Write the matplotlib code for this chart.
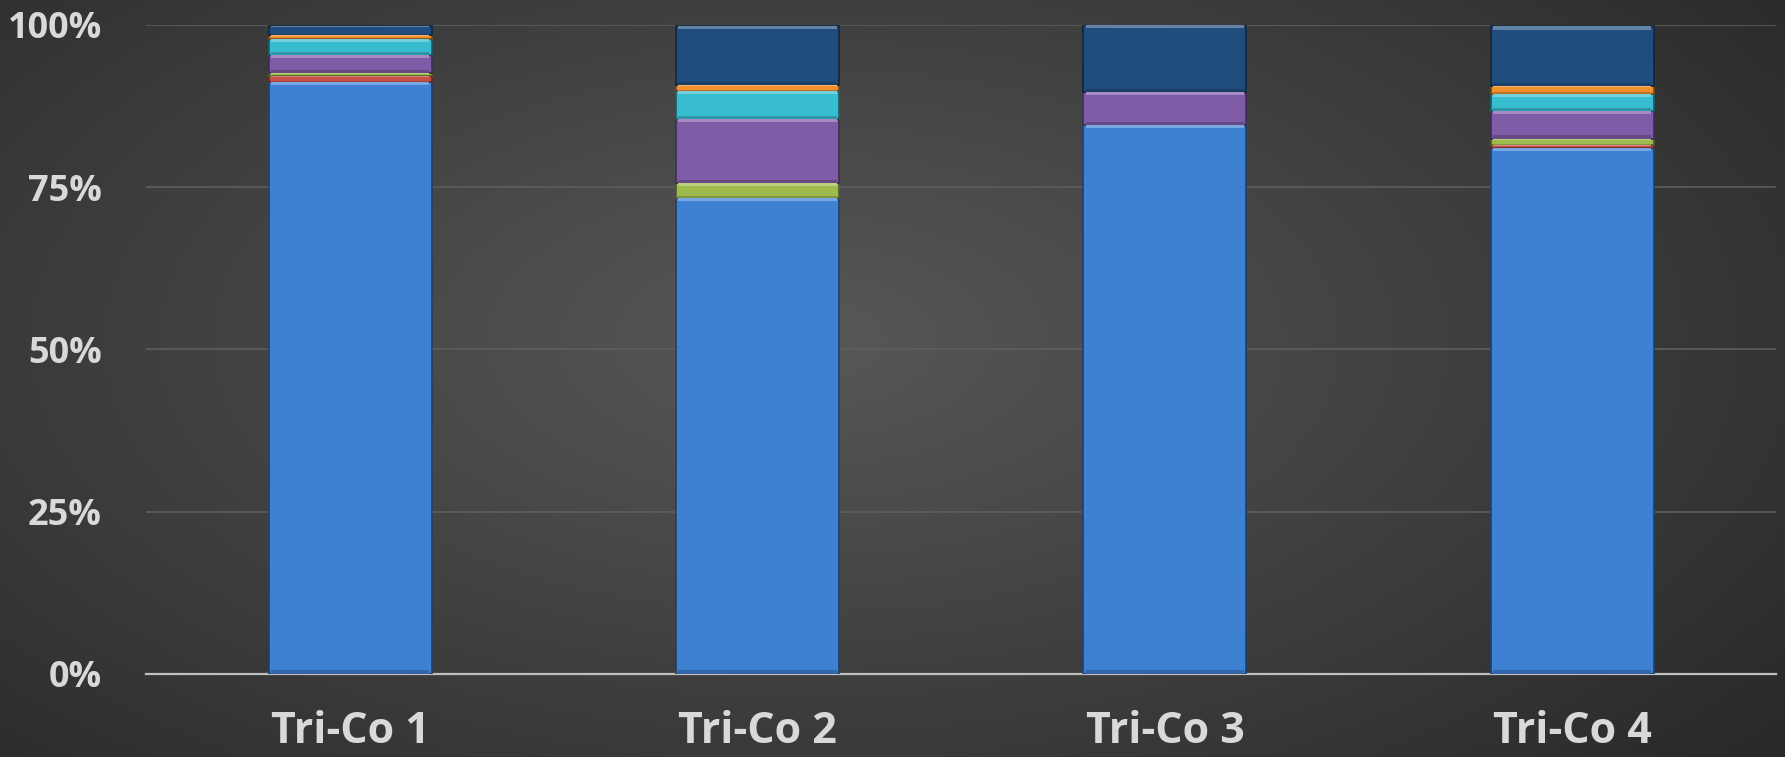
import numpy as np
import matplotlib.pyplot as plt
from matplotlib.colors import to_rgb

categories = ['Tri-Co 1', 'Tri-Co 2', 'Tri-Co 3', 'Tri-Co 4']
# percent share per series, bottom to top
s_blue = [91.2, 73.3, 84.6, 81.0]
s_red = [0.9, 0.0, 0.0, 0.5]
s_green = [0.5, 2.3, 0.0, 1.0]
s_purple = [2.8, 9.9, 5.1, 4.3]
s_cyan = [2.4, 4.4, 0.0, 2.6]
s_orange = [0.6, 0.8, 0.0, 1.2]
s_navy = [1.5, 9.2, 10.3, 9.2]
yticks = [0, 25, 50, 75, 100]
ytick_labels = ['0%', '25%', '50%', '75%', '100%']

series = [s_blue, s_red, s_green, s_purple, s_cyan, s_orange, s_navy]
colors = ['#3e80d2', '#c8504a', '#9dbb4c', '#7e5ca8', '#38bccf', '#f0902f', '#204d7e']

def lighten(c, f):
    r, g, b = to_rgb(c)
    return (r + (1 - r) * f, g + (1 - g) * f, b + (1 - b) * f)

def darken(c, f):
    r, g, b = to_rgb(c)
    return (r * (1 - f), g * (1 - f), b * (1 - f))

fig = plt.figure(figsize=(17.85, 7.57), dpi=100)

# radial gradient background
bg = fig.add_axes([0, 0, 1, 1], zorder=-10)
yy, xx = np.mgrid[0:1:400j, 0:1:900j]
d = np.sqrt(((xx - 0.45) / 0.75) ** 2 + ((yy - 0.55) / 0.9) ** 2)
d = np.clip(d, 0, 1)
c0 = np.array(to_rgb('#585858'))
c1 = np.array(to_rgb('#262626'))
img = c0[None, None, :] * (1 - d[..., None]) + c1[None, None, :] * d[..., None]
bg.imshow(img, aspect='auto', extent=[0, 1, 0, 1], origin='lower')
bg.axis('off')

ax = fig.add_axes([0.082, 0.110, 0.913, 0.857])
ax.patch.set_alpha(0)

x = np.arange(len(categories))
width = 0.4
bottom = np.zeros(len(categories))
for vals, col in zip(series, colors):
    vals = np.array(vals)
    ax.bar(x, vals, width, bottom=bottom, color=col,
           edgecolor=darken(col, 0.5), linewidth=1.2, zorder=3)
    # bevel highlight on top and shade at bottom of each segment
    hl = np.minimum(vals * 0.18, 0.5)
    ax.bar(x, hl, width * 0.97, bottom=bottom + vals - hl,
           color=lighten(col, 0.3), linewidth=0, zorder=4)
    ax.bar(x, hl, width * 0.97, bottom=bottom,
           color=darken(col, 0.2), linewidth=0, zorder=4)
    bottom = bottom + vals

ax.set_xlim(-0.5, 3.5)
ax.set_ylim(0, 100)
ax.set_yticks(yticks)
ax.set_yticklabels(ytick_labels)
ax.set_xticks(x)
ax.set_xticklabels(categories)
ax.grid(axis='y', color='#5e5e5e', linewidth=1.2, zorder=0)
for s in ['top', 'right', 'left']:
    ax.spines[s].set_visible(False)
ax.spines['bottom'].set_color('#bfbfbf')
ax.spines['bottom'].set_linewidth(1.6)
ax.tick_params(axis='both', length=0)
ax.tick_params(axis='y', pad=32, labelsize=26, labelcolor='#d9d9d9')
ax.tick_params(axis='x', pad=26, labelsize=31, labelcolor='#d9d9d9')
for lab in ax.get_yticklabels():
    lab.set_fontweight('bold')
    lab.set_family(['Open Sans', 'DejaVu Sans'])
for lab in ax.get_xticklabels():
    lab.set_fontweight('bold')
    lab.set_family(['Open Sans', 'DejaVu Sans'])

fig.savefig('out.png', dpi=100)
